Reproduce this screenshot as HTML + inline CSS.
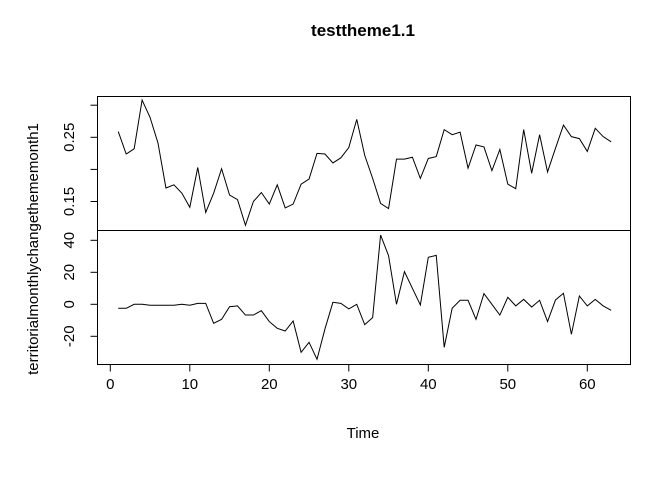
<!DOCTYPE html>
<html><head><meta charset="utf-8"><style>
html,body{margin:0;padding:0;background:#fff}
svg{display:block;font-family:"Liberation Sans",Arial,sans-serif}
</style></head><body>
<svg id="chart" width="672" height="480" viewBox="0 0 672 480" xmlns="http://www.w3.org/2000/svg">
<text x="363" y="36" text-anchor="middle" font-size="17" font-weight="bold">testtheme1.1</text>
<text transform="translate(38,249) rotate(-90)" text-anchor="middle" font-size="15">territorialmonthlychangethememonth1</text>
<text x="363" y="438" text-anchor="middle" font-size="15">Time</text>
<rect x="97.5" y="96.5" width="533" height="134" fill="none" stroke="#000"/>
<rect x="97.5" y="230.5" width="533" height="134" fill="none" stroke="#000"/>
<g id="axes"></g>
<g id="series"></g>
</svg>
<script>
const topValues=[0.259,0.224,0.232,0.308,0.281,0.241,0.171,0.176,0.163,0.141,0.203,0.133,0.163,0.201,0.160,0.153,0.113,0.150,0.164,0.146,0.176,0.140,0.146,0.177,0.185,0.225,0.224,0.210,0.218,0.234,0.278,0.222,0.186,0.147,0.139,0.216,0.216,0.219,0.186,0.217,0.220,0.262,0.254,0.258,0.202,0.238,0.235,0.198,0.231,0.177,0.170,0.262,0.194,0.254,0.196,0.233,0.269,0.251,0.248,0.228,0.264,0.251,0.243];
const bottomValues=[-2.5,-2.5,0,0,-0.6,-0.6,-0.6,-0.6,0,-0.6,0.6,0.6,-11.9,-9.4,-1.5,-1,-6.7,-6.7,-4,-10.8,-15,-16.7,-10.4,-30,-23.75,-34.4,-15.4,1.25,0.6,-2.9,0,-12.7,-8.3,43.3,30.4,0,20.4,10,-0.4,29.4,30.6,-26.9,-2.5,2.5,2.5,-9.4,6.7,0,-6.7,4.4,-1,3.1,-1.7,2.5,-10.8,2.7,6.9,-18.75,5.2,-1,3.1,-1,-3.75];
const xTicks=[0,10,20,30,40,50,60];
const topTicks=[0.15,0.20,0.25,0.30];
const topTickLabels=["0.15","","0.25",""];
const bottomTicks=[-20,0,20,40];
const bottomTickLabels=["-20","0","20","40"];

const NS="http://www.w3.org/2000/svg";
const xs=t=>110.3+7.95*t;
const ysTop=v=>137.3-(v-0.25)*642;
const ysBot=v=>304.3-v*1.6;
const axes=document.getElementById('axes');
const series=document.getElementById('series');
function mk(tag,attrs,parent){const e=document.createElementNS(NS,tag);for(const k in attrs)e.setAttribute(k,attrs[k]);parent.appendChild(e);return e;}

xTicks.forEach(t=>{
  const x=xs(t);
  const l=mk('line',{x1:x,y1:364.5,x2:x,y2:371.5,stroke:'#000'},axes);
  
  
  const tx=mk('text',{x:x,y:389,'text-anchor':'middle','font-size':'15'},axes);
  tx.textContent=String(t);
  
  
});
topTicks.forEach((v,i)=>{
  const y=ysTop(v);
  const l=mk('line',{x1:90.5,y1:y,x2:97.5,y2:y,stroke:'#000'},axes);
  
  
  if(topTickLabels[i]){
    const tx=mk('text',{transform:`translate(74,${y}) rotate(-90)`,'text-anchor':'middle','font-size':'15'},axes);
    tx.textContent=topTickLabels[i];
    
    
  }
});
bottomTicks.forEach((v,i)=>{
  const y=ysBot(v);
  const l=mk('line',{x1:90.5,y1:y,x2:97.5,y2:y,stroke:'#000'},axes);
  
  
  const tx=mk('text',{transform:`translate(74,${y}) rotate(-90)`,'text-anchor':'middle','font-size':'15'},axes);
  tx.textContent=bottomTickLabels[i];
  
  
});
const p1=mk('polyline',{points:topValues.map((v,i)=>xs(i+1)+','+ysTop(v)).join(' '),fill:'none',stroke:'#000','stroke-width':'1'},series);


const p2=mk('polyline',{points:bottomValues.map((v,i)=>xs(i+1)+','+ysBot(v)).join(' '),fill:'none',stroke:'#000','stroke-width':'1'},series);


</script>
</body></html>
